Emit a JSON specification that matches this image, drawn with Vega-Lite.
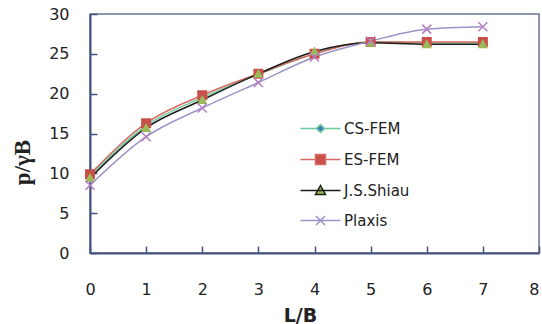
{
  "$schema": "https://vega.github.io/schema/vega-lite/v6.json",
  "width": 449,
  "height": 239,
  "autosize": {"type": "none"},
  "padding": {"left": 90, "top": 14, "right": 3, "bottom": 71},
  "background": "white",
  "config": {
    "view": {"stroke": "#6a7396", "strokeWidth": 1.5},
    "axis": {"domainColor": "#45527f", "domainWidth": 2, "tickColor": "#45527f", "tickWidth": 1.5, "grid": false},
    "legend": {"labelFont": "DejaVu Sans", "labelFontSize": 15, "labelColor": "#222"}
  },
  "data": {"values": [
    {"L": 0, "p": 9.7, "series": "CS-FEM"}, {"L": 1, "p": 16.0, "series": "CS-FEM"}, {"L": 2, "p": 19.5, "series": "CS-FEM"}, {"L": 3, "p": 22.4, "series": "CS-FEM"}, {"L": 4, "p": 25.0, "series": "CS-FEM"}, {"L": 5, "p": 26.5, "series": "CS-FEM"}, {"L": 6, "p": 26.4, "series": "CS-FEM"}, {"L": 7, "p": 26.4, "series": "CS-FEM"},
    {"L": 0, "p": 9.9, "series": "ES-FEM"}, {"L": 1, "p": 16.3, "series": "ES-FEM"}, {"L": 2, "p": 19.8, "series": "ES-FEM"}, {"L": 3, "p": 22.5, "series": "ES-FEM"}, {"L": 4, "p": 25.0, "series": "ES-FEM"}, {"L": 5, "p": 26.5, "series": "ES-FEM"}, {"L": 6, "p": 26.5, "series": "ES-FEM"}, {"L": 7, "p": 26.5, "series": "ES-FEM"},
    {"L": 0, "p": 9.4, "series": "J.S.Shiau"}, {"L": 1, "p": 15.7, "series": "J.S.Shiau"}, {"L": 2, "p": 19.2, "series": "J.S.Shiau"}, {"L": 3, "p": 22.5, "series": "J.S.Shiau"}, {"L": 4, "p": 25.3, "series": "J.S.Shiau"}, {"L": 5, "p": 26.4, "series": "J.S.Shiau"}, {"L": 6, "p": 26.2, "series": "J.S.Shiau"}, {"L": 7, "p": 26.2, "series": "J.S.Shiau"},
    {"L": 0, "p": 8.5, "series": "Plaxis"}, {"L": 1, "p": 14.6, "series": "Plaxis"}, {"L": 2, "p": 18.2, "series": "Plaxis"}, {"L": 3, "p": 21.4, "series": "Plaxis"}, {"L": 4, "p": 24.6, "series": "Plaxis"}, {"L": 5, "p": 26.6, "series": "Plaxis"}, {"L": 6, "p": 28.1, "series": "Plaxis"}, {"L": 7, "p": 28.4, "series": "Plaxis"}
  ]},
  "encoding": {
    "x": {"field": "L", "type": "quantitative", "scale": {"domain": [0, 8], "nice": false},
      "axis": {"title": "L/B", "values": [0,1,2,3,4,5,6,7,8], "tickSize": -7, "labelPadding": 35, "labelFlush": false,
        "labelFont": "DejaVu Sans", "labelFontSize": 16, "labelColor": "#222",
        "labelAlign": {"expr": "datum.value == 8 ? 'right' : 'center'"},
        "titleFont": "DejaVu Sans", "titleFontSize": 19, "titleFontWeight": "bold", "titleColor": "#222", "titleX": 210, "titleY": 62, "titleBaseline": "middle"}},
    "y": {"field": "p", "type": "quantitative", "scale": {"domain": [0, 30], "nice": false},
      "axis": {"title": "p/γB", "values": [0,5,10,15,20,25,30], "tickSize": -7, "labelPadding": 28, "labelFlush": false,
        "labelFont": "DejaVu Sans", "labelFontSize": 16, "labelColor": "#222",
        "titleFont": "Liberation Serif", "titleFontSize": 23, "titleFontWeight": "bold", "titleColor": "#222", "titleX": -68, "titleY": 148, "titleAngle": -90, "titleAlign": "center", "titleBaseline": "middle"}}
  },
  "layer": [
    {
      "mark": {"type": "line", "interpolate": "monotone", "strokeWidth": 1.5},
      "encoding": {
        "color": {"field": "series", "type": "nominal", "legend": null,
          "scale": {"range": ["#6cc99a", "#d66a62", "#1a1a1a", "#9c92c6"]}},
        "order": {"field": "L"}
      }
    },
    {
      "mark": {"type": "point", "filled": true, "opacity": 1, "size": 100, "strokeWidth": 0},
      "encoding": {
        "fill": {"field": "series", "type": "nominal",
          "scale": {"domain": ["CS-FEM", "ES-FEM", "J.S.Shiau", "Plaxis"], "range": ["#4a7ebb", "#c9504a", "#9bbb59", "transparent"]},
          "legend": {"title": null, "orient": "none", "legendX": 223, "legendY": 107, "labelOffset": 16, "rowPadding": 14, "symbolStrokeWidth": 1.5, "padding": 0,
            "encode": {"symbols": {"update": {"strokeWidth": {"value": 1.5}, "opacity": {"value": 1}}}}}},
        "stroke": {"field": "series", "type": "nominal",
          "scale": {"domain": ["CS-FEM", "ES-FEM", "J.S.Shiau", "Plaxis"], "range": ["#6cc99a", "#d66a62", "#1a1a1a", "#9c92c6"]}},
        "shape": {"field": "series", "type": "nominal",
          "scale": {"domain": ["CS-FEM", "ES-FEM", "J.S.Shiau", "Plaxis"], "range": [
            "M-4,0H-0.8M0,-0.8L0.8,0L0,0.8L-0.8,0ZM0.8,0H4",
            "M-4,0H-1M-1,-1H1V1H-1ZM1,0H4",
            "M-4,0H4M0,-1L1,0.8L-1,0.8Z",
            "M-4,0H4M-0.9,-0.9L0.9,0.9M-0.9,0.9L0.9,-0.9"]}}
      }
    },
    {
      "transform": [{"filter": "datum.series === 'Plaxis'"}],
      "mark": {"type": "point", "shape": "M-0.9,-0.9L0.9,0.9M-0.9,0.9L0.9,-0.9", "size": 100, "stroke": "#b57cc4", "strokeWidth": 1.5, "filled": false, "opacity": 1},
      "encoding": {}
    }
  ]
}
